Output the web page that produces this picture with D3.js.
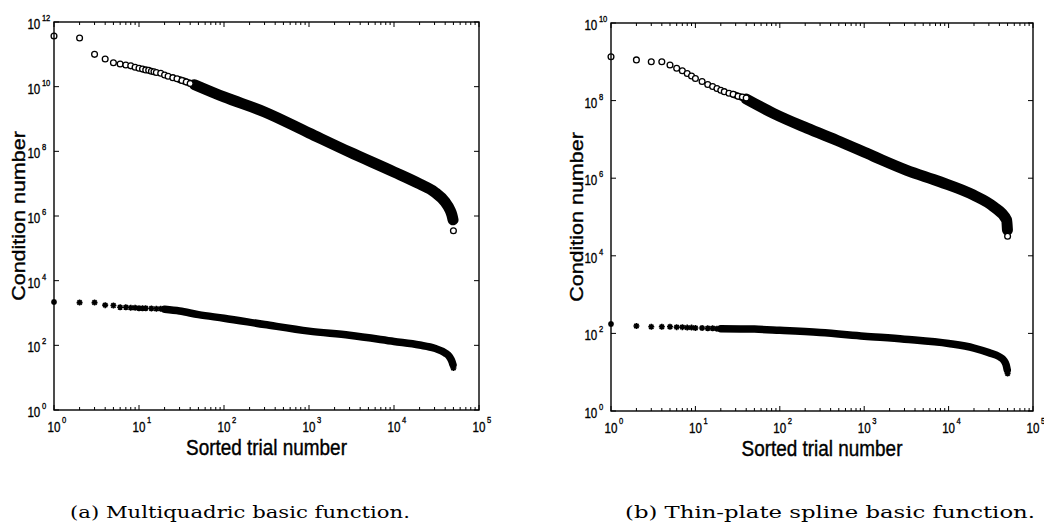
<!DOCTYPE html>
<html><head><meta charset="utf-8">
<script src="https://cdn.jsdelivr.net/npm/d3@7"></script>
<style>body{margin:0;background:#fff}svg{display:block}</style>
</head><body>
<svg id="c" width="1044" height="522"></svg>
<script>
// ---------- data ----------
// (a) Multiquadric: upper series (circles), lower series (stars)
const mqCircleTrials = [1,2,3,4,5,6,7,8,9,10,11,12,13,14,15,16,18,20,22,25,28,32,36,40,50000];
const mqCircleValues = [3.7e11,3.2e11,1.0e11,7.2e10,5.5e10,5.0e10,4.7e10,4.4e10,4.0e10,3.7e10,3.5e10,3.3e10,3.2e10,3.0e10,2.9e10,2.75e10,2.6e10,2.3e10,2.1e10,1.9e10,1.75e10,1.55e10,1.4e10,1.25e10,3.5e5];
const mqCircleBandTrials = [30,45,100,300,1000,3000,10000,20000,30000,40000,45000,48000,49500];
const mqCircleBandValues = [1.65e10,1.15e10,4.8e9,1.65e9,3.7e8,9.5e7,2.3e7,9.8e6,5.5e6,2.7e6,1.65e6,1.07e6,7.6e5];
const mqStarTrials = [1,2,3,4,5,6,7,8,9,10,11,12,14,16,18,20,50000];
const mqStarValues = [2.2e3,2.1e3,2.1e3,1.75e3,1.7e3,1.5e3,1.5e3,1.45e3,1.45e3,1.4e3,1.4e3,1.4e3,1.38e3,1.35e3,1.35e3,1.3e3,20];
const mqStarBandTrials = [20,30,50,100,300,1000,3000,10000,20000,30000,40000,45000,48000,49500];
const mqStarBandValues = [1.3e3,1.15e3,890,690,440,275,205,132,102,81,58,44,32,25];

// (b) Thin-plate spline
const tpsCircleTrials = [1,2,3,4,5,6,7,8,9,10,12,14,16,18,20,22,25,28,32,36,40,50000];
const tpsCircleValues = [1.35e9,1.12e9,1.0e9,1.0e9,8.3e8,6.8e8,5.9e8,5.0e8,4.3e8,3.7e8,3.1e8,2.6e8,2.3e8,2.05e8,1.85e8,1.7e8,1.55e8,1.45e8,1.3e8,1.23e8,1.17e8,3.2e4];
const tpsCircleBandTrials = [28,40,84,210,520,1280,3200,7900,19600,33900,48800,49800];
const tpsCircleBandValues = [1.45e8,1.1e8,4.7e7,1.95e7,8.7e6,3.7e6,1.6e6,8.1e5,3.7e5,1.86e5,8.3e4,4.6e4];
const tpsStarTrials = [1,2,3,4,5,6,7,8,9,10,12,14,16,18,20,50000];
const tpsStarValues = [174,155,148,148,148,145,145,141,141,138,138,135,135,132,132,9.3];
const tpsStarBandTrials = [20,50,100,300,1000,3000,10000,20000,30000,40000,45000,48000,49500];
const tpsStarBandValues = [132,129,120,105,85,71,55,42,32,25,20.4,15.5,11.5];

// tick labels (exponents of 10)
const xTickExps = [0,1,2,3,4,5];
const mqYTickExps = [0,2,4,6,8,10,12];
const tpsYTickExps = [0,2,4,6,8,10];

const xLabelText = "Sorted trial number";
const yLabelText = "Condition number";
const captions = ["(a) Multiquadric basic function.", "(b) Thin-plate spline basic function."];

// ---------- drawing ----------
const svg = d3.select("#c");
const SANS = "'Liberation Sans', Arial, Helvetica, sans-serif";
const SERIF = "'DejaVu Serif', 'Liberation Serif', serif";
const HS = 0.8;   // horizontal squeeze of tick-label glyphs
const LS = 0.88;  // horizontal squeeze of axis-label glyphs

const panels = [
  {left:54, right:479, top:22, bottom:410, yMaxExp:12, yTicks:mqYTickExps,
   circ:[mqCircleTrials,mqCircleValues], circBand:[mqCircleBandTrials,mqCircleBandValues],
   star:[mqStarTrials,mqStarValues], starBand:[mqStarBandTrials,mqStarBandValues],
   ylabX:25, caption:captions[0], capX:240, capW:340},
  {left:611, right:1033, top:23, bottom:411, yMaxExp:10, yTicks:tpsYTickExps,
   circ:[tpsCircleTrials,tpsCircleValues], circBand:[tpsCircleBandTrials,tpsCircleBandValues],
   star:[tpsStarTrials,tpsStarValues], starBand:[tpsStarBandTrials,tpsStarBandValues],
   ylabX:583, caption:captions[1], capX:830, capW:410}
];

function starPath(cx, cy, s){
  const d = s*0.72;
  return `M${cx-s},${cy}L${cx+s},${cy}M${cx},${cy-s}L${cx},${cy+s}` +
         `M${cx-d},${cy-d}L${cx+d},${cy+d}M${cx-d},${cy+d}L${cx+d},${cy-d}`;
}

function tickText(sel, size){
  return sel.attr("font-family",SANS).attr("font-size",size)
    .attr("fill","#000").attr("stroke","#000").attr("stroke-width",0.35);
}

panels.forEach(p => {
  const x = d3.scaleLog().domain([1, 1e5]).range([p.left, p.right]);
  const y = d3.scaleLog().domain([1, Math.pow(10, p.yMaxExp)]).range([p.bottom, p.top]);
  const g = svg.append("g");

  // data bands (dense parts)
  const line = d3.line().x(d => x(d[0])).y(d => y(d[1])).curve(d3.curveMonotoneX);
  const cb = p.circBand[0].map((t,i) => [t, p.circBand[1][i]]);
  const sb = p.starBand[0].map((t,i) => [t, p.starBand[1][i]]);
  const bandStyle = (path, w) => path.attr("fill","none").attr("stroke","#000")
    .attr("stroke-width", w).attr("stroke-linecap","round").attr("stroke-linejoin","round");
  bandStyle(g.append("path").attr("d", line(cb.slice(0,3))), 7);
  bandStyle(g.append("path").attr("d", line(cb.slice(1))), 11);
  bandStyle(g.append("path").attr("d", line(sb)), 7.5);

  // individual markers
  p.circ[0].forEach((t,i) => {
    g.append("circle").attr("cx", x(t)).attr("cy", y(p.circ[1][i])).attr("r", 2.9)
      .attr("fill","#fff").attr("stroke","#000").attr("stroke-width",1.3);
  });
  p.star[0].forEach((t,i) => {
    g.append("path").attr("d", starPath(x(t), y(p.star[1][i]), 3))
      .attr("stroke","#000").attr("stroke-width",1.6).attr("fill","none");
  });

  // box
  g.append("rect").attr("x", p.left).attr("y", p.top)
    .attr("width", p.right-p.left).attr("height", p.bottom-p.top)
    .attr("fill","none").attr("stroke","#000").attr("stroke-width",1.4);

  // x ticks (major + minor), inward, top and bottom
  const ticks = g.append("g").attr("stroke","#000").attr("stroke-width",1);
  xTickExps.forEach(e => {
    const v = Math.pow(10, e);
    const px = x(v);
    ticks.append("line").attr("x1",px).attr("x2",px).attr("y1",p.bottom).attr("y2",p.bottom-5);
    ticks.append("line").attr("x1",px).attr("x2",px).attr("y1",p.top).attr("y2",p.top+5);
    if (e < 5) {
      for (let k = 2; k <= 9; k++) {
        const mx = x(k*v);
        ticks.append("line").attr("x1",mx).attr("x2",mx).attr("y1",p.bottom).attr("y2",p.bottom-3);
        ticks.append("line").attr("x1",mx).attr("x2",mx).attr("y1",p.top).attr("y2",p.top+3);
      }
    }
    const lg = svg.append("g").attr("transform", `translate(${px},${p.bottom+22}) scale(${HS},1)`);
    tickText(lg.append("text").attr("x",0).attr("y",0).attr("text-anchor","middle"), 14.5).text("10");
    tickText(lg.append("text").attr("x",10).attr("y",-9).attr("text-anchor","start"), 9.5).text(String(e));
  });

  // y ticks, inward, left and right
  p.yTicks.forEach(e => {
    const py = y(Math.pow(10, e));
    ticks.append("line").attr("x1",p.left).attr("x2",p.left+5).attr("y1",py).attr("y2",py);
    ticks.append("line").attr("x1",p.right).attr("x2",p.right-5).attr("y1",py).attr("y2",py);
    const lg = svg.append("g").attr("transform", `translate(${p.left-13.7},${py+7}) scale(${HS},1)`);
    tickText(lg.append("text").attr("x",0).attr("y",0).attr("text-anchor","end"), 14.5).text("10");
    tickText(lg.append("text").attr("x",2).attr("y",-8).attr("text-anchor","start"), 9.5).text(String(e));
  });

  // axis labels
  svg.append("g").attr("transform", `translate(${(p.left+p.right)/2},${p.bottom+45}) scale(${LS},1)`)
    .append("text").attr("text-anchor","middle").attr("font-family",SANS)
    .attr("font-size",21.5).attr("fill","#000").attr("stroke","#000").attr("stroke-width",0.4)
    .text(xLabelText);
  svg.append("g").attr("transform", `translate(${p.ylabX},${(p.top+p.bottom)/2}) scale(${LS},1) rotate(-90)`)
    .append("text").attr("text-anchor","middle").attr("font-family",SANS)
    .attr("font-size",21.5).attr("fill","#000").attr("stroke","#000").attr("stroke-width",0.4)
    .text(yLabelText);

  // caption
  svg.append("text").attr("x", p.capX).attr("y", 517.5).attr("text-anchor","middle")
    .attr("font-family",SERIF).attr("font-size",17.5).attr("fill","#000")
    .attr("textLength", p.capW).attr("lengthAdjust","spacingAndGlyphs")
    .text(p.caption);
});
</script>
</body></html>
